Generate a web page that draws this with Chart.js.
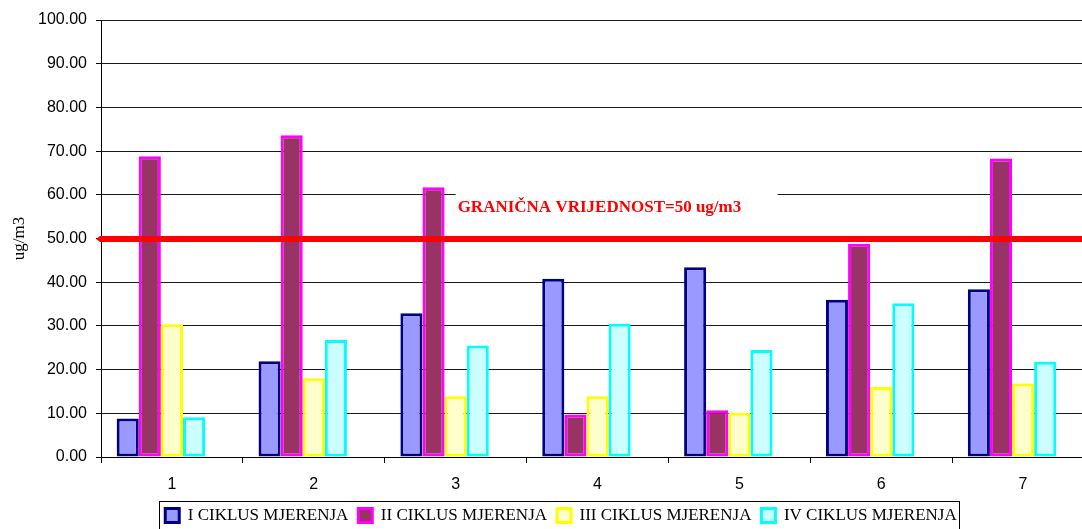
<!DOCTYPE html>
<html>
<head>
<meta charset="utf-8">
<script src="https://cdn.jsdelivr.net/npm/chart.js@4.4.1/dist/chart.umd.min.js"></script>
<style>
  html, body { margin: 0; padding: 0; background: #fff; overflow: hidden; width: 1082px; height: 529px; }
  #wrap { position: absolute; left: 0; top: 0; width: 1122px; height: 534px; }
</style>
</head>
<body>
<div id="wrap"><canvas id="c" width="1122" height="534"></canvas></div>
<script>
const categories = ['1', '2', '3', '4', '5', '6', '7'];
const seriesNames = ['I CIKLUS MJERENJA', 'II CIKLUS MJERENJA', 'III CIKLUS MJERENJA', 'IV CIKLUS MJERENJA'];
const ciklus1 = [8.8, 21.9, 32.9, 40.8, 43.4, 36.0, 38.4];
const ciklus2 = [68.8, 73.6, 61.7, 9.7, 10.7, 48.8, 68.3];
const ciklus3 = [30.4, 18.0, 13.9, 13.9, 10.1, 16.0, 16.8];
const ciklus4 = [9.1, 26.8, 25.5, 30.5, 24.5, 35.2, 21.8];
const limitValue = 50;
const limitLabel = 'GRANIČNA VRIJEDNOST=50 ug/m3';
const yTicks = [0, 10, 20, 30, 40, 50, 60, 70, 80, 90, 100];
const yTitle = 'ug/m3';

const fills = ['#9999FF', '#993366', '#FFFFCC', '#CCFFFF'];
const borders = ['#000080', '#FF00FF', '#FFFF00', '#00FFFF'];
const seriesValues = [ciklus1, ciklus2, ciklus3, ciklus4];

const datasets = seriesValues.map((vals, i) => ({
  label: seriesNames[i],
  data: vals,
  backgroundColor: fills[i],
  borderColor: borders[i],
  borderWidth: 3,
  borderSkipped: false,
  yAxisID: 'y'
}));
// empty fifth slot (the original chart reserves room for a fifth series)
datasets.push({ label: '', data: categories.map(() => null), backgroundColor: 'rgba(0,0,0,0)', borderWidth: 0, yAxisID: 'y' });

const limitPlugin = {
  id: 'limit',
  beforeDatasetsDraw(chart) {
    const { ctx, scales: { x, y } } = chart;
    const left = x.getPixelForValue(2);
    const top = y.getPixelForValue(61.5);
    const bottom = y.getPixelForValue(52.5);
    ctx.save();
    ctx.fillStyle = '#fff';
    ctx.fillRect(left, top, 322, bottom - top);
    ctx.fillStyle = '#FF0000';
    ctx.font = 'bold 17px "Liberation Serif", "Times New Roman", serif';
    ctx.textBaseline = 'alphabetic';
    ctx.textAlign = 'left';
    ctx.fillText(limitLabel, left + 2, y.getPixelForValue(57.1) + 5);
    ctx.restore();
  },
  afterDatasetsDraw(chart) {
    const { ctx, chartArea, scales: { y } } = chart;
    const py = Math.round(y.getPixelForValue(limitValue));
    ctx.save();
    ctx.fillStyle = '#FF0000';
    ctx.beginPath();
    ctx.moveTo(chartArea.left - 5, py);
    ctx.lineTo(chartArea.left - 1, py - 3);
    ctx.lineTo(chartArea.right, py - 3);
    ctx.lineTo(chartArea.right, py + 3);
    ctx.lineTo(chartArea.left - 1, py + 3);
    ctx.closePath();
    ctx.fill();
    ctx.restore();
  },
  afterDraw(chart) {
    const lg = chart.legend;
    if (!lg || !lg.legendHitBoxes || !lg.legendHitBoxes.length) return;
    const boxes = lg.legendHitBoxes.filter(b => b.width > 0);
    const first = boxes[0], last = boxes[boxes.length - 1];
    const ctx = chart.ctx;
    ctx.save();
    ctx.strokeStyle = '#000';
    ctx.lineWidth = 1;
    ctx.strokeRect(Math.round(first.left) - 5.5, Math.round(first.top) - 5.5,
      Math.round(last.left + last.width - first.left) + 8, 40);
    ctx.restore();
  }
};

new Chart(document.getElementById('c'), {
  type: 'bar',
  data: { labels: categories, datasets },
  options: {
    responsive: false,
    animation: false,
    devicePixelRatio: 1,
    layout: { padding: { top: 20, left: 0, right: 0, bottom: 0 } },
    datasets: { bar: { categoryPercentage: 0.779, barPercentage: 1.0 } },
    plugins: {
      tooltip: { enabled: false },
      legend: {
        position: 'bottom',
        labels: {
          filter: item => item.text !== '',
          boxWidth: 14,
          boxHeight: 14,
          padding: 10,
          color: '#000',
          font: { family: '"Liberation Serif", "Times New Roman", serif', size: 17 }
        }
      }
    },
    scales: {
      x: {
        offset: true,
        grid: { display: true, drawOnChartArea: false, offset: true, color: '#000', tickLength: 6, tickWidth: 1 },
        border: { display: true, color: '#000', width: 1 },
        ticks: { color: '#000', padding: 12, font: { family: '"Liberation Sans", Arial, sans-serif', size: 16 } },
        afterFit: s => { s.height = 40; }
      },
      y: {
        position: 'left',
        min: 0,
        max: 100,
        afterBuildTicks: s => { s.ticks = yTicks.map(v => ({ value: v })); },
        grid: { color: '#1a1a1a', lineWidth: 1, tickLength: 5, tickColor: '#000' },
        border: { display: true, color: '#000', width: 1 },
        ticks: {
          color: '#000',
          padding: 9,
          font: { family: '"Liberation Sans", Arial, sans-serif', size: 16 },
          callback: v => Number(v).toFixed(2)
        },
        title: {
          display: true,
          text: yTitle,
          color: '#000',
          padding: { top: 9, bottom: 0 },
          font: { family: '"Liberation Serif", "Times New Roman", serif', size: 17 }
        },
        afterFit: s => { s.width = 101; }
      },
      yr: {
        position: 'right',
        display: true,
        min: 0, max: 100,
        grid: { display: false, drawTicks: false },
        border: { display: false },
        ticks: { display: false },
        afterFit: s => { s.width = 28; }
      }
    }
  },
  plugins: [limitPlugin]
});
</script>
</body>
</html>
